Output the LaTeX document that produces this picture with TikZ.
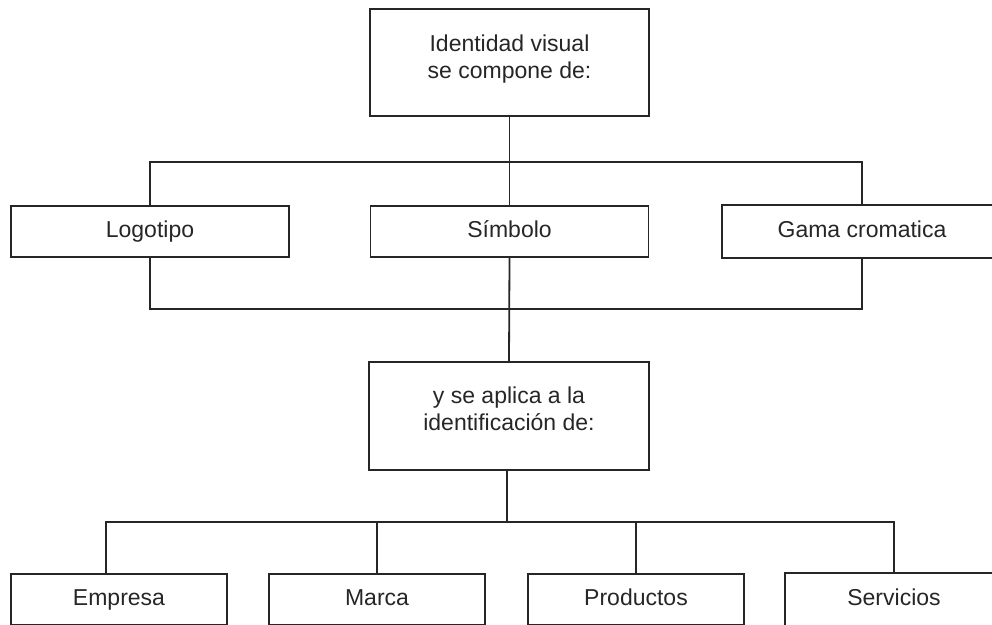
\documentclass[tikz,border=0pt]{standalone}
\usepackage{fontspec}
\setmainfont{Liberation Sans}
\definecolor{ink}{HTML}{262626}
\begin{document}
\begin{tikzpicture}[x=1pt,y=-1pt,
  box/.style={draw=ink, line width=1.8pt, inner sep=0pt, align=center, text=ink,
    font=\fontsize{23}{27}\selectfont},
  one/.style={box, minimum height=51pt, text height=16.5pt, text depth=4.8pt},
  open/.style={one, draw=none},
  link/.style={draw=ink, line width=1.8pt}]
\useasboundingbox (0,0) rectangle (992,624);
\clip (0,0) rectangle (992,624);
% nodes
\node[box, minimum width=279pt, minimum height=107pt] (top) at (509.5,62.5)
  {\raisebox{2.5pt}[\height][\depth]{\begin{tabular}{@{}c@{}}Identidad visual\\se compone de:\end{tabular}}};
\node[one, minimum width=278pt] (logo) at (150,231.5) {Logotipo};
\node[one, minimum width=278pt] (sim) at (509.5,231.5) {Símbolo};
\node[open, minimum width=278pt] (gama) at (862,231.5) {Gama cromatica};
\node[box, minimum width=280pt, minimum height=108pt] (mid) at (509,416)
  {\raisebox{4pt}[\height][\depth]{\begin{tabular}{@{}c@{}}y se aplica a la\\identificación de:\end{tabular}}};
\node[one, minimum width=216pt] (emp) at (119,599.5) {Empresa};
\node[one, minimum width=216pt] (marca) at (377,599.5) {Marca};
\node[one, minimum width=216pt] (prod) at (636,599.5) {Productos};
\node[open, minimum width=216pt] (serv) at (894,599.5) {Servicios};
% boxes cut by the right edge of the page
\draw[link] (995,0 |- gama.north) -- (gama.north west) -- (gama.south west) -- (995,0 |- gama.south);
\draw[link] (995,0 |- serv.north) -- (serv.north west) -- (serv.south west);
% bus coordinates
\coordinate (b1) at (509.5,162);
\coordinate (b2) at (509.5,309);
\coordinate (b3) at (507,522);
\coordinate (e1) at (106,522);
% upper connectors
\draw[link] (top.south) -- (sim.north);
\draw[link] (logo.north) |- (b1) -| (gama.north);
\draw[link] (logo.south) |- (b2) -| (gama.south);
\draw[link] (sim.south) -- (mid.north);
% lower connectors
\draw[link] (mid.south -| b3) -- (b3);
\draw[link] (e1 |- emp.north) -- (e1) -| (serv.north);
\draw[link] (marca.north) -- (marca.north |- b3);
\draw[link] (prod.north) -- (prod.north |- b3);
\end{tikzpicture}
\end{document}
